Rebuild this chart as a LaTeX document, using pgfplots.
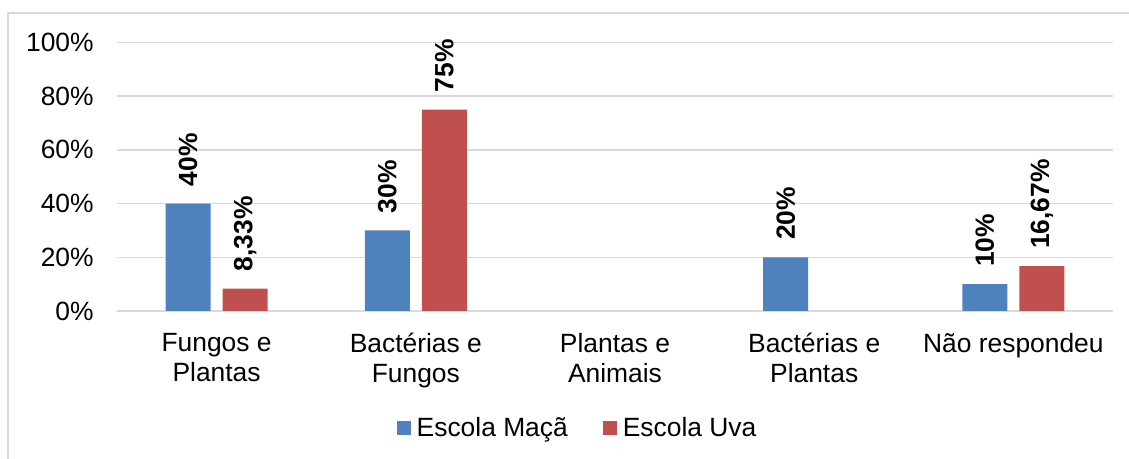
\documentclass[border=0pt]{standalone}
\usepackage{pgfplots}
\pgfplotsset{compat=1.18}
\usepackage{fontspec}
\setmainfont{Liberation Sans}
\definecolor{maca}{HTML}{4F81BD}
\definecolor{uva}{HTML}{C0504D}
\definecolor{gridc}{HTML}{D9D9D9}
\begin{document}
\begin{tikzpicture}[font=\fontsize{13.2}{15}\selectfont]
\useasboundingbox (-58.5pt,-74pt) rectangle (506pt,155.5pt);
\draw[gridc, line width=0.6pt] (-54.5pt,-80pt) -- (-54.5pt,149pt) -- (520pt,149pt);
\begin{axis}[
  at={(0pt,0pt)}, anchor=south west,
  scale only axis, width=498pt, height=134.25pt,
  xmin=-0.5, xmax=4.5, ymin=0, ymax=100,
  ybar=6pt, bar width=22.5pt,
  clip=false,
  axis line style={draw=none},
  major tick length=0pt,
  ymajorgrids, grid style={gridc, line width=0.7pt},
  ytick={0,20,40,60,80,100},
  yticklabels={0\%,20\%,40\%,60\%,80\%,100\%},
  yticklabel style={anchor=east, inner sep=0pt, xshift=-11.5pt},
  xtick={0,1,2,3,4},
  xticklabels={{Fungos e\\Plantas},{Bactérias e\\Fungos},{Plantas e\\Animais},{Bactérias e\\Plantas},{Não respondeu}},
  xticklabel style={anchor=north, align=center, inner sep=0pt, yshift=-11pt},
  point meta=explicit symbolic,
  nodes near coords,
  every node near coord/.append style={font=\fontsize{13.2}{15}\selectfont\bfseries, rotate=90, anchor=west, inner ysep=0pt, inner xsep=8.5pt},
  legend columns=2,
  legend image code/.code={\fill[#1] (0pt,-3.5pt) rectangle (7pt,3.5pt);},
  legend style={at={(0.4644,-0.4376)}, anchor=center, draw=none, fill=none,
    nodes={inner xsep=3pt, inner ysep=0pt},
    /tikz/every even column/.append style={column sep=14.5pt}},
]
\addplot[fill=maca, draw=none] coordinates {(0,40)[40\%] (1,30)[30\%] (3,20)[20\%] (4,10)[10\%]};
\addplot[fill=uva, draw=none] coordinates {(0,8.33)[8,33\%] (1,75)[75\%] (4,16.67)[16,67\%]};
\legend{Escola Maçã, Escola Uva}
\end{axis}
\end{tikzpicture}
\end{document}
